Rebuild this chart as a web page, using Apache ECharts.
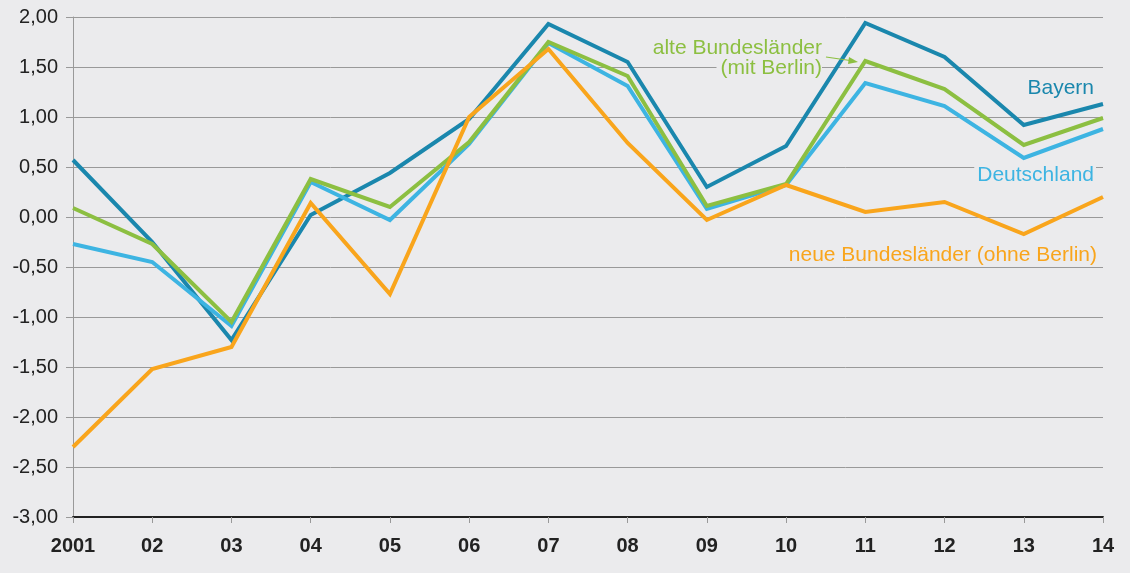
<!DOCTYPE html>
<html>
<head>
<meta charset="utf-8">
<script src="https://cdn.jsdelivr.net/npm/echarts@6/dist/echarts.min.js"></script>
<style>
  html, body { margin: 0; padding: 0; background: #ebebed; }
  #chart { width: 1130px; height: 573px; }
</style>
</head>
<body>
<div id="chart"></div>
<script>
// Jahre
const years = ['2001', '02', '03', '04', '05', '06', '07', '08', '09', '10', '11', '12', '13', '14']

// Werte je Region
const bayern = [0.57, -0.25, -1.23, 0.02, 0.44, 0.98, 1.93, 1.55, 0.30, 0.71, 1.94, 1.60, 0.92, 1.13]
const deutschland = [-0.27, -0.45, -1.09, 0.35, -0.03, 0.73, 1.74, 1.31, 0.08, 0.32, 1.34, 1.11, 0.59, 0.88]
const alteLaender = [0.09, -0.27, -1.05, 0.38, 0.10, 0.75, 1.75, 1.41, 0.11, 0.33, 1.56, 1.28, 0.72, 0.99]
const neueLaender = [-2.30, -1.52, -1.30, 0.14, -0.77, 1.00, 1.68, 0.74, -0.03, 0.32, 0.05, 0.15, -0.17, 0.20]

const colBayern = '#1a87ad'
const colDeutschland = '#3db4e2'
const colAlte = '#8cbf41'
const colNeue = '#f9a51c'
const bg = '#ebebed'
const font = '"Liberation Sans", Arial, Helvetica, sans-serif'

let myChart = echarts.init(document.getElementById('chart'))

function line(name, data, color) {
  return {
    name: name,
    type: 'line',
    data: data,
    symbol: 'none',
    lineStyle: { color: color, width: 4, join: 'miter' },
    itemStyle: { color: color },
    z: 3
  }
}

let option = {
  backgroundColor: bg,
  animation: false,
  grid: { left: 73, right: 27, top: 17, bottom: 56 },
  xAxis: {
    type: 'category',
    data: years,
    boundaryGap: false,
    axisLine: { onZero: false, lineStyle: { color: '#222', width: 2 } },
    axisTick: { show: true, length: 6, lineStyle: { color: '#999' } },
    axisLabel: {
      color: '#222',
      fontFamily: '"Liberation Sans Narrow", "Liberation Sans", Arial, sans-serif',
      fontWeight: 'bold',
      fontSize: 20,
      margin: 19
    }
  },
  yAxis: {
    type: 'value',
    min: -3,
    max: 2,
    interval: 0.5,
    axisLine: { show: true, lineStyle: { color: '#999', width: 1 } },
    axisTick: { show: true, length: 7, lineStyle: { color: '#999' } },
    splitLine: { lineStyle: { color: '#999', width: 1 } },
    axisLabel: {
      color: '#222',
      fontFamily: font,
      fontSize: 20,
      margin: 15,
      formatter: v => v.toFixed(2).replace('.', ',')
    }
  },
  series: [
    line('Bayern', bayern, colBayern),
    line('Deutschland', deutschland, colDeutschland),
    line('alte Bundesländer (mit Berlin)', alteLaender, colAlte),
    line('neue Bundesländer (ohne Berlin)', neueLaender, colNeue)
  ],
  graphic: [
    {
      type: 'text', right: 308, top: 38, z: 10,
      style: { text: 'alte Bundesländer', fill: colAlte, font: '21px ' + font, align: 'right', backgroundColor: bg }
    },
    {
      type: 'text', right: 308, top: 58, z: 10,
      style: { text: '(mit Berlin)', fill: colAlte, font: '21px ' + font, align: 'right', backgroundColor: bg, padding: [0, 0, 0, 4] }
    },
    {
      type: 'line', z: 10,
      shape: { x1: 826, y1: 57, x2: 850, y2: 60.5 },
      style: { stroke: colAlte, lineWidth: 1.2 }
    },
    {
      type: 'polygon', z: 10,
      shape: { points: [[858, 62], [849, 57], [848, 64]] },
      style: { fill: colAlte }
    },
    {
      type: 'text', right: 36, top: 78, z: 10,
      style: { text: 'Bayern', fill: colBayern, font: '21px ' + font, backgroundColor: bg }
    },
    {
      type: 'text', right: 34, top: 165, z: 10,
      style: { text: 'Deutschland', fill: colDeutschland, font: '21px ' + font, backgroundColor: bg, padding: [0, 2, 0, 3] }
    },
    {
      type: 'text', right: 33, top: 245, z: 10,
      style: { text: 'neue Bundesländer (ohne Berlin)', fill: colNeue, font: '21px ' + font }
    }
  ]
}

myChart.setOption(option)
</script>
</body>
</html>
